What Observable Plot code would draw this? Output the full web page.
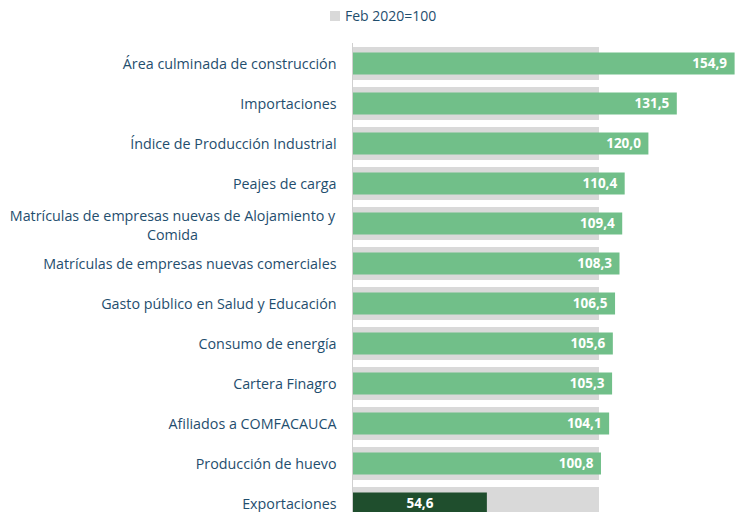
<!DOCTYPE html>
<html><head><meta charset="utf-8">
<script src="https://cdn.jsdelivr.net/npm/d3@7"></script>
<script src="https://cdn.jsdelivr.net/npm/@observablehq/plot@0.6"></script>
<style>
html,body{margin:0;padding:0;overflow:hidden;background:#fff;width:743px;height:512px;}
#legend{position:absolute;left:330px;top:6px;z-index:2;font:14px "Open Sans",sans-serif;color:#1f4e6e;display:flex;align-items:center;}
#legend .sw{display:inline-block;width:10px;height:10px;background:#d9d9d9;margin-right:5px;}
#chart{position:absolute;left:0;top:0;z-index:1;}
</style></head><body>
<div id="legend"><span class="sw"></span>Feb 2020=100</div>
<div id="chart"></div>
<script>
const categories = [
  "Área culminada de construcción",
  "Importaciones",
  "Índice de Producción Industrial",
  "Peajes de carga",
  "Matrículas de empresas nuevas de Alojamiento y Comida",
  "Matrículas de empresas nuevas comerciales",
  "Gasto público en Salud y Educación",
  "Consumo de energía",
  "Cartera Finagro",
  "Afiliados a COMFACAUCA",
  "Producción de huevo",
  "Exportaciones"
];
const displayLabels = [
  "Área culminada de construcción",
  "Importaciones",
  "Índice de Producción Industrial",
  "Peajes de carga",
  "Matrículas de empresas nuevas de Alojamiento y\nComida",
  "Matrículas de empresas nuevas comerciales",
  "Gasto público en Salud y Educación",
  "Consumo de energía",
  "Cartera Finagro",
  "Afiliados a COMFACAUCA",
  "Producción de huevo",
  "Exportaciones"
];
const values = [154.9, 131.5, 120.0, 110.4, 109.4, 108.3, 106.5, 105.6, 105.3, 104.1, 100.8, 54.6];
const baseValue = 100;
const highlighted = ["Exportaciones"];

const rows = categories.map((c, i) => ({
  cat: c, label: displayLabels[i], value: values[i], base: baseValue,
  highlight: highlighted.includes(c), wrap: displayLabels[i].includes("\n")
}));
const fmt = v => d3.format(".1f")(v).replace(".", ",");
const labelColor = "#1f4e6e";

const chart = Plot.plot({
  width: 743, height: 527,
  marginLeft: 352, marginRight: 0, marginTop: 40, marginBottom: 0,
  x: {domain: [0, 158.3], axis: null},
  y: {domain: categories, padding: 0.175, axis: null},
  style: {fontFamily: '"Open Sans", sans-serif', fontSize: "14.3px", background: "transparent"},
  marks: [
    Plot.barX(rows, {y: "cat", x: "base", fill: "#d9d9d9"}),
    Plot.barX(rows.filter(d => !d.highlight), {y: "cat", x: "value", fill: "#71bf89", insetTop: 5.5, insetBottom: 5.5}),
    Plot.barX(rows.filter(d => d.highlight), {y: "cat", x: "value", fill: "#1f4e2d", insetTop: 5.5, insetBottom: 5.5}),
    Plot.ruleX([0], {stroke: "#d0d0d0", insetTop: 3}),
    Plot.text(rows.filter(d => !d.wrap), {y: "cat", x: 0, text: "label", textAnchor: "end", dx: -16, fill: labelColor}),
    Plot.text(rows.filter(d => d.wrap), {y: "cat", x: 0, text: "label", textAnchor: "middle", dx: -180, lineHeight: 1.35, fill: labelColor}),
    Plot.text(rows.filter(d => !d.highlight), {y: "cat", x: "value", text: d => fmt(d.value), textAnchor: "end", dx: -8, fill: "#fff", fontWeight: "bold", fontSize: 13.5}),
    Plot.text(rows.filter(d => d.highlight), {y: "cat", x: d => d.value / 2, text: d => fmt(d.value), textAnchor: "middle", fill: "#fff", fontWeight: "bold", fontSize: 13.5})
  ]
});
document.getElementById("chart").append(chart);
</script></body></html>
